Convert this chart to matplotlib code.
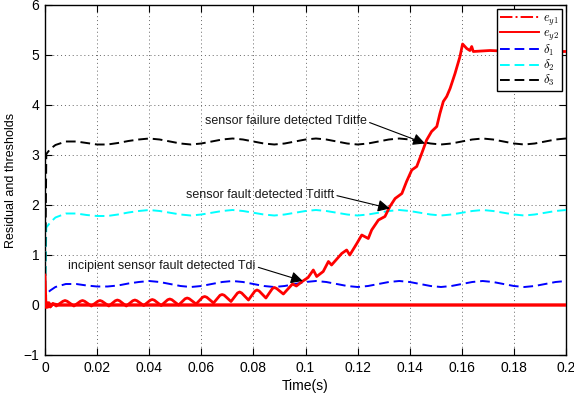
import matplotlib
matplotlib.use("Agg")
import matplotlib.pyplot as plt
from matplotlib.lines import Line2D

plt.rcParams['font.family'] = ['Liberation Sans', 'DejaVu Sans']
plt.rcParams['mathtext.fontset'] = 'cm'

# ---------------- data ----------------
x_ticks = [0, 0.02, 0.04, 0.06, 0.08, 0.1, 0.12, 0.14, 0.16, 0.18, 0.2]
x_tick_labels = ["0", "0.02", "0.04", "0.06", "0.08", "0.1", "0.12", "0.14", "0.16", "0.18", "0.2"]
y_ticks = [-1, 0, 1, 2, 3, 4, 5, 6]

# thresholds
thr_t = [0.0, 0.0005, 0.002, 0.004, 0.008, 0.012, 0.016, 0.020, 0.024, 0.028, 0.032, 0.036, 0.040,
         0.044, 0.048, 0.052, 0.056, 0.060, 0.064, 0.068, 0.072,
         0.076, 0.080, 0.084, 0.088, 0.092, 0.096, 0.100, 0.104,
         0.108, 0.112, 0.116, 0.120, 0.124, 0.128, 0.132, 0.136,
         0.140, 0.144, 0.148, 0.152, 0.156, 0.160, 0.164, 0.168,
         0.172, 0.176, 0.180, 0.184, 0.188, 0.192, 0.196, 0.200]
delta1 = [0.0, 0.22, 0.29, 0.36, 0.42, 0.42, 0.39, 0.37, 0.37, 0.39, 0.43, 0.46, 0.48,
          0.46, 0.42, 0.38, 0.36, 0.38, 0.42, 0.46, 0.48,
          0.46, 0.42, 0.38, 0.36, 0.38, 0.42, 0.46, 0.48,
          0.46, 0.42, 0.38, 0.36, 0.38, 0.42, 0.46, 0.48,
          0.46, 0.42, 0.38, 0.36, 0.38, 0.42, 0.46, 0.48,
          0.46, 0.42, 0.38, 0.36, 0.38, 0.42, 0.46, 0.48]
delta2 = [0.0, 1.55, 1.65, 1.75, 1.83, 1.83, 1.80, 1.78, 1.78, 1.81, 1.85, 1.88, 1.90,
          1.88, 1.845, 1.81, 1.79, 1.81, 1.845, 1.88, 1.90,
          1.88, 1.845, 1.81, 1.79, 1.81, 1.845, 1.88, 1.90,
          1.88, 1.845, 1.81, 1.79, 1.81, 1.845, 1.88, 1.90,
          1.88, 1.845, 1.81, 1.79, 1.81, 1.845, 1.88, 1.90,
          1.88, 1.845, 1.81, 1.79, 1.81, 1.845, 1.88, 1.90]
delta3 = [0.0, 3.02, 3.12, 3.20, 3.27, 3.27, 3.24, 3.21, 3.21, 3.24, 3.28, 3.31, 3.33,
          3.31, 3.27, 3.23, 3.21, 3.23, 3.27, 3.31, 3.33,
          3.31, 3.27, 3.23, 3.21, 3.23, 3.27, 3.31, 3.33,
          3.31, 3.27, 3.23, 3.21, 3.23, 3.27, 3.31, 3.33,
          3.31, 3.27, 3.23, 3.21, 3.23, 3.27, 3.31, 3.33,
          3.31, 3.27, 3.23, 3.21, 3.23, 3.27, 3.31, 3.33]

# residual e_y1 (faulty sensor)
ey1_t = [0.0, 0.0004, 0.0012, 0.002, 0.003, 0.0043,
         0.0069, 0.0077, 0.0085, 0.0111,
         0.0136, 0.0144, 0.0152, 0.0178,
         0.0203, 0.0211, 0.0219, 0.0245,
         0.0270, 0.0278, 0.0286, 0.0312,
         0.0337, 0.0345, 0.0353, 0.0379,
         0.0404, 0.0412, 0.0420, 0.0446,
         0.0471, 0.0479, 0.0487, 0.0513,
         0.0538, 0.0546, 0.0554, 0.0580,
         0.0605, 0.0613, 0.0621, 0.0647,
         0.0672, 0.0680, 0.0688, 0.0714,
         0.0739, 0.0747, 0.0755, 0.0781,
         0.0806, 0.0814, 0.0822, 0.0848,
         0.0873, 0.0881, 0.0889, 0.0915,
         0.0950, 0.0965, 0.0990, 0.1010, 0.1030, 0.1043, 0.1068, 0.1088,
         0.1100, 0.1139, 0.1158, 0.1170, 0.1197, 0.1216, 0.1241, 0.1254,
         0.1280, 0.1305, 0.1324, 0.1344, 0.1370, 0.1388, 0.1408, 0.1427,
         0.1446, 0.1465, 0.1484, 0.1504, 0.1516, 0.1529, 0.1542, 0.1555,
         0.1574, 0.1593, 0.1603, 0.1619, 0.1631, 0.1638, 0.1644, 0.1708,
         0.1800, 0.1900, 0.2000]
ey1_v = [0.6, -0.05, 0.04, -0.04, 0.03, -0.02,
         0.075, 0.09, 0.075, -0.02,
         0.075, 0.09, 0.075, -0.02,
         0.075, 0.09, 0.075, -0.02,
         0.085, 0.10, 0.085, -0.02,
         0.085, 0.10, 0.085, -0.01,
         0.095, 0.11, 0.095, -0.01,
         0.105, 0.12, 0.105, 0.0,
         0.125, 0.14, 0.125, 0.02,
         0.155, 0.17, 0.155, 0.04,
         0.195, 0.21, 0.195, 0.07,
         0.24, 0.26, 0.24, 0.10,
         0.28, 0.30, 0.28, 0.14,
         0.33, 0.35, 0.33, 0.22,
         0.42, 0.38, 0.48, 0.55, 0.70, 0.57, 0.67, 0.87,
         0.80, 1.03, 1.10, 1.00, 1.23, 1.40, 1.33, 1.50,
         1.70, 1.77, 1.97, 2.13, 2.23, 2.47, 2.70, 2.77,
         3.03, 3.30, 3.47, 3.57, 3.83, 4.07, 4.17, 4.33,
         4.63, 4.97, 5.22, 5.13, 5.09, 5.17, 5.07, 5.09,
         5.07, 5.07, 5.07]

# residual e_y2 (healthy sensor)
ey2_t = [0.0, 0.0005, 0.001, 0.0015, 0.002, 0.003, 0.005, 0.2]
ey2_v = [0.0, 0.05, -0.04, 0.04, -0.03, 0.02, 0.0, 0.0]

annotations = [
    ("incipient sensor fault detected Tdi", 0.0089, 0.77, 0.0990, 0.48),
    ("sensor fault detected Tditft", 0.0541, 2.20, 0.1324, 1.93),
    ("sensor failure detected Tditfe", 0.0614, 3.67, 0.1459, 3.23),
]

# ---------------- plot ----------------
fig = plt.figure(figsize=(5.74, 4.0), dpi=100)
ax = fig.add_axes([45 / 574, 45 / 400, 521 / 574, 350 / 400])

dash = (5, 2.5)
ax.plot(thr_t, delta1, color=(0, 0, 1), lw=1.4, dashes=dash, zorder=3)
ax.plot(thr_t, delta2, color=(0, 1, 1), lw=1.4, dashes=dash, zorder=3)
ax.plot(thr_t, delta3, color='black', lw=1.4, dashes=dash, zorder=3)
ax.plot(ey2_t, ey2_v, color=(1, 0, 0), lw=2.4, zorder=4)
ax.plot(ey1_t, ey1_v, color=(1, 0, 0), lw=2.0, zorder=4, solid_joinstyle='round')

for txt, tx, ty, px, py in annotations:
    ax.annotate(txt, xy=(px, py), xytext=(tx, ty), fontsize=9, ha='left', va='center',
                color='#1a1a1a',
                arrowprops=dict(arrowstyle='-|>', color='black', lw=0.8,
                                mutation_scale=18, shrinkA=0, shrinkB=0,
                                relpos=(1.0, 0.5)), zorder=6)

ax.set_xlim(0, 0.2)
ax.set_ylim(-1, 6)
ax.set_xticks(x_ticks)
ax.set_xticklabels(x_tick_labels)
ax.set_yticks(y_ticks)
ax.tick_params(direction='in', length=5, width=0.8, top=True, right=True, labelsize=10, pad=4)
ax.grid(True, linestyle=(0, (1, 3)), color='#666666', linewidth=0.7)
for s in ax.spines.values():
    s.set_linewidth(1.0)
    s.set_color('black')

ax.set_xlabel("Time(s)", fontsize=10, labelpad=3)
ax.set_ylabel("Residual and thresholds", fontsize=9, labelpad=5)

handles = [
    Line2D([], [], color=(1, 0, 0), lw=1.4, linestyle='-.'),
    Line2D([], [], color=(1, 0, 0), lw=1.4, linestyle='-'),
    Line2D([], [], color=(0, 0, 1), lw=1.4, dashes=dash),
    Line2D([], [], color=(0, 1, 1), lw=1.4, dashes=dash),
    Line2D([], [], color='black', lw=1.4, dashes=dash),
]
labels = [r"$e_{y1}$", r"$e_{y2}$", r"$\delta_1$", r"$\delta_2$", r"$\delta_3$"]
leg = ax.legend(handles, labels, loc='upper right', fontsize=9, handlelength=3.1,
                handletextpad=0.3, labelspacing=0.0, borderpad=0.25,
                borderaxespad=0.35, fancybox=False, framealpha=1, edgecolor='black')
leg.get_frame().set_linewidth(1.0)
leg.set_zorder(10)

fig.savefig("out.png", dpi=100)
